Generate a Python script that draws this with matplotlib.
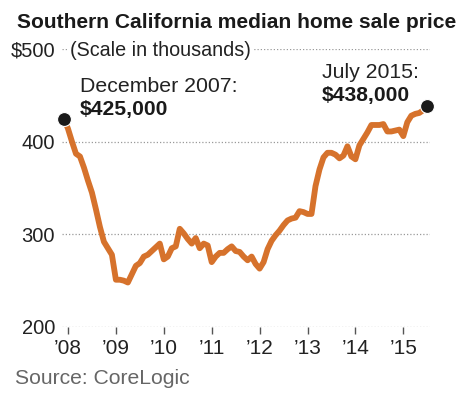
import matplotlib
matplotlib.use("Agg")
import matplotlib.pyplot as plt
import numpy as np

# Monthly median price (thousands), Dec 2007 .. Jul 2015
start_year, start_month = 2007, 12
values = [425, 414, 400, 387, 384, 372, 358, 345, 327, 308,
          292, 285, 278, 251, 251, 250, 248, 257, 266, 269,
          276, 278, 282, 286, 290, 273, 276, 285, 287, 306,
          301, 295, 290, 296, 285, 290, 288, 270, 276, 280,
          280, 284, 287, 282, 281, 276, 272, 276, 268, 263,
          270, 284, 293, 299, 304, 310, 315, 317, 318, 325,
          324, 322, 322, 352, 370, 383, 388, 388, 386, 382,
          385, 395, 384, 381, 396, 403, 410, 418, 418, 418,
          419, 411, 411, 412, 413, 406, 421, 428, 430, 431,
          434, 438]
tick_years = [2008, 2009, 2010, 2011, 2012, 2013, 2014, 2015]
tick_labels = ["\u201908", "\u201909", "\u201910", "\u201911", "\u201912", "\u201913", "\u201914", "\u201915"]
y_ticks = [200, 300, 400, 500]
y_labels = ["200", "300", "400", "$500"]

x = start_year + (start_month - 1) / 12 + np.arange(len(values)) / 12

plt.rcParams['font.family'] = ['Liberation Sans', 'DejaVu Sans']
W, H = 464, 394
fig = plt.figure(figsize=(W / 100, H / 100), dpi=100)
ax = fig.add_axes([62 / W, (H - 327) / H, (430 - 62) / W, (327 - 49) / H])

ax.set_xlim(2007.875, 2015.557)
ax.set_ylim(200, 500)

for yv in y_ticks:
    ax.axhline(yv, color="#9a9a9a", lw=0.9, ls=(0, (1, 1.6)), zorder=1)

ax.plot(x, values, color="#d6722c", lw=4.2, solid_capstyle="round",
        solid_joinstyle="round", zorder=3)
ax.plot([x[0], x[-1]], [values[0], values[-1]], "o", color="#1a1a1a",
        ms=10, mec="white", mew=0.8, zorder=4, clip_on=False)

for s in ax.spines.values():
    s.set_visible(False)
ax.set_xticks(tick_years)
ax.set_xticklabels(tick_labels, fontsize=15, color="#222222")
ax.tick_params(axis="x", length=5, width=1, color="#555555", pad=4, direction="out")
ax.set_yticks(y_ticks)
ax.set_yticklabels(y_labels, fontsize=14.5, color="#222222")
ax.tick_params(axis="y", length=0, pad=5)

def put(xp, yp, s, **kw):
    fig.text(xp / W, 1 - yp / H, s, va="baseline", ha="left", **kw)

put(17, 27.5, "Southern California median home sale price",
    fontsize=15.1, fontweight="bold", color="#1a1a1a")
put(70, 56, "(Scale in thousands)", fontsize=14.2, color="#222222",
    bbox=dict(facecolor="white", edgecolor="none", pad=1.5))
put(80, 92, "December 2007:", fontsize=15.3, color="#222222")
put(80, 114.5, "$425,000", fontsize=15.2, fontweight="bold", color="#1a1a1a")
put(322, 78.5, "July 2015:", fontsize=15.3, color="#222222")
put(322, 101.5, "$438,000", fontsize=15.2, fontweight="bold", color="#1a1a1a")
put(15, 383.5, "Source: CoreLogic", fontsize=15.2, color="#666666")

fig.savefig("out.png", dpi=100, facecolor="white")
